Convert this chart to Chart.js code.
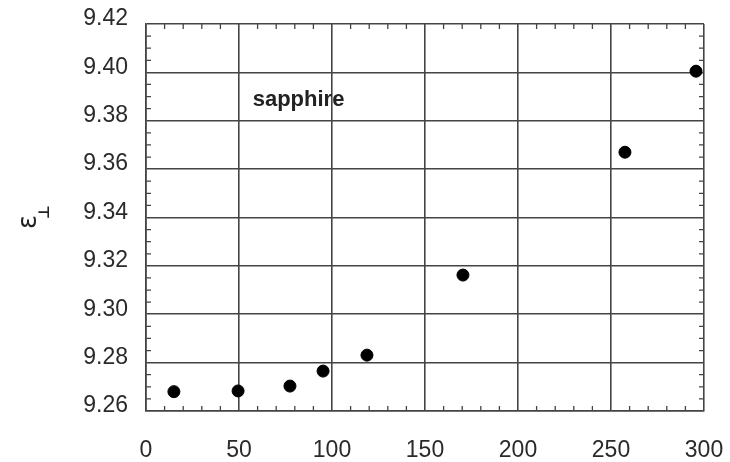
<!DOCTYPE html>
<html>
<head>
<meta charset="utf-8">
<script src="https://cdn.jsdelivr.net/npm/chart.js@4"></script>
<style>
  html, body { margin: 0; padding: 0; background: #fff; }
  #wrap { width: 730px; height: 462px; }
</style>
</head>
<body>
<div id="wrap"><canvas id="chart" width="730" height="462"></canvas></div>
<script>
// temperature (K) and permittivity readings
const temperatures = [15, 49.5, 77.4, 95.2, 118.8, 170.4, 257.5, 295.7];
const epsilonPerp = [9.268, 9.2683, 9.2703, 9.2765, 9.2831, 9.3162, 9.367, 9.4005];
const xTicks = [0, 50, 100, 150, 200, 250, 300];
const yTicks = [9.26, 9.28, 9.30, 9.32, 9.34, 9.36, 9.38, 9.40, 9.42];
const materialLabel = 'sapphire';

const lineColor = '#444';
const textColor = '#2a2a2a';

function noPadding(scale) {
    scale.paddingTop = 0;
    scale.paddingBottom = 0;
    scale.paddingLeft = 0;
    scale.paddingRight = 0;
}

// inward minor ticks on all four sides + axis title + annotation
const decorations = {
    id: 'decorations',
    afterDraw(chart) {
        const ctx = chart.ctx;
        const area = chart.chartArea;
        const xs = chart.scales.x;
        const ys = chart.scales.y;
        const len = 5;

        ctx.save();
        ctx.strokeStyle = lineColor;
        ctx.lineWidth = 1.3;
        ctx.beginPath();
        for (let v = 10; v < 300; v += 10) {
            if (v % 50 === 0) continue;
            const px = xs.getPixelForValue(v);
            ctx.moveTo(px, area.bottom);
            ctx.lineTo(px, area.bottom - len);
            ctx.moveTo(px, area.top);
            ctx.lineTo(px, area.top + len);
        }
        for (let i = 1; i < 32; i++) {
            if (i % 4 === 0) continue;
            const py = ys.getPixelForValue(9.26 + i * 0.005);
            ctx.moveTo(area.left, py);
            ctx.lineTo(area.left + len, py);
            ctx.moveTo(area.right, py);
            ctx.lineTo(area.right - len, py);
        }
        ctx.stroke();

        // annotation
        ctx.fillStyle = '#222';
        ctx.font = 'bold 22px "Liberation Sans", Arial, sans-serif';
        ctx.textAlign = 'center';
        ctx.textBaseline = 'middle';
        ctx.fillText(materialLabel, xs.getPixelForValue(82), ys.getPixelForValue(9.3885));

        // y axis title: epsilon with perpendicular subscript
        ctx.translate(29, 222);
        ctx.rotate(-Math.PI / 2);
        ctx.font = '26px "DejaVu Sans", sans-serif';
        ctx.fillText('ε', 0, 0);
        ctx.font = 'bold 15px "DejaVu Sans", sans-serif';
        ctx.fillText('⊥', 10, 16);
        ctx.restore();
    }
};

new Chart(document.getElementById('chart'), {
    type: 'scatter',
    data: {
        datasets: [{
            data: temperatures.map((t, i) => ({ x: t, y: epsilonPerp[i] })),
            backgroundColor: '#000',
            borderColor: '#000',
            pointRadius: 6,
            pointHoverRadius: 6
        }]
    },
    options: {
        responsive: false,
        animation: false,
        layout: {
            autoPadding: false,
            padding: { top: 24, right: 26, bottom: 0, left: 0 }
        },
        plugins: {
            legend: { display: false },
            tooltip: { enabled: false }
        },
        scales: {
            x: {
                type: 'linear',
                min: 0,
                max: 300,
                afterFit(scale) { scale.height = 51; noPadding(scale); },
                afterBuildTicks(scale) { scale.ticks = xTicks.map(v => ({ value: v })); },
                grid: { color: lineColor, lineWidth: 1.6, drawTicks: false },
                border: { color: lineColor, width: 1.6 },
                ticks: {
                    padding: 26,
                    color: textColor,
                    font: { family: '"Liberation Sans", Arial, sans-serif', size: 23 }
                }
            },
            y: {
                min: 9.26,
                max: 9.42,
                afterFit(scale) { scale.width = 146; noPadding(scale); },
                afterBuildTicks(scale) { scale.ticks = yTicks.map(v => ({ value: v })); },
                grid: { color: lineColor, lineWidth: 1.6, drawTicks: false },
                border: { color: lineColor, width: 1.6 },
                ticks: {
                    padding: 18,
                    labelOffset: -5,
                    color: textColor,
                    font: { family: '"Liberation Sans", Arial, sans-serif', size: 23 },
                    callback: v => v.toFixed(2)
                }
            }
        }
    },
    plugins: [decorations]
});
</script>
</body>
</html>
